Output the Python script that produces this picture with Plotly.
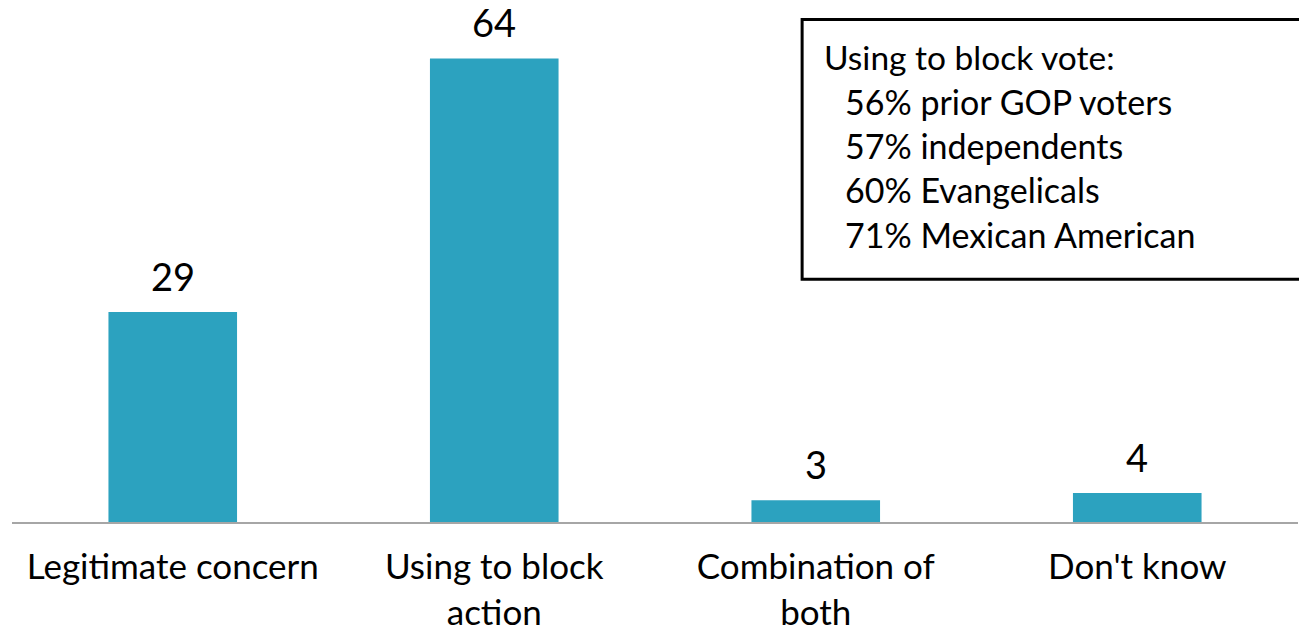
import plotly.graph_objects as go

categories = ["Legitimate concern", "Using to block<br>action", "Combination of<br>both", "Don't know"]
values = [29, 64, 3, 4]
box_title = "Using to block vote:"
box_lines = ["56% prior GOP voters", "57% independents", "60% Evangelicals", "71% Mexican American"]

BAR = "#2CA2BF"
FONT = "Lato, 'Open Sans', sans-serif"

fig = go.Figure()
fig.add_trace(go.Bar(x=categories, y=values, marker=dict(color=BAR, line=dict(width=0)),
                     width=0.4, hoverinfo="skip"))

for c, v in zip(categories, values):
    fig.add_annotation(x=c, y=v, text=str(v), showarrow=False, yanchor="bottom",
                       yshift=11, font=dict(size=38, color="black", family=FONT))

# text box
fig.add_shape(type="rect", xref="paper", yref="paper", x0=0.6144, x1=1.2, y0=0.4788, y1=0.991,
              line=dict(color="black", width=3), fillcolor="white", layer="above")
fig.add_annotation(xref="paper", yref="paper", x=(822 - 12.4) / 1285.2, y=(522 - 57) / 507.5,
                   text=box_title, showarrow=False, xanchor="left", yanchor="middle",
                   font=dict(size=33.5, color="black", family=FONT))
for i, t in enumerate(box_lines):
    yc = 101 + i * 44.3
    fig.add_annotation(xref="paper", yref="paper", x=(843 - 12.4) / 1285.2, y=(522 - yc) / 507.5,
                       text=t, showarrow=False, xanchor="left", yanchor="middle",
                       font=dict(size=34, color="black", family=FONT))

fig.update_layout(
    width=1299, height=633,
    margin=dict(l=12.4, r=1.4, t=14.5, b=111),
    paper_bgcolor="white", plot_bgcolor="white",
    showlegend=False,
    font=dict(family=FONT, color="black"),
    xaxis=dict(showline=True, linecolor="#A6A6A6", linewidth=2, showgrid=False, automargin=False,
               ticks="", tickfont=dict(size=35, family=FONT, color="black"), ticklabelstandoff=13),
    yaxis=dict(range=[0, 70], visible=False, showgrid=False, zeroline=False, automargin=False),
)

fig.write_html("out.html", config={"displayModeBar": False},
               post_script="document.body.style.margin='0';document.body.style.overflow='hidden';")
